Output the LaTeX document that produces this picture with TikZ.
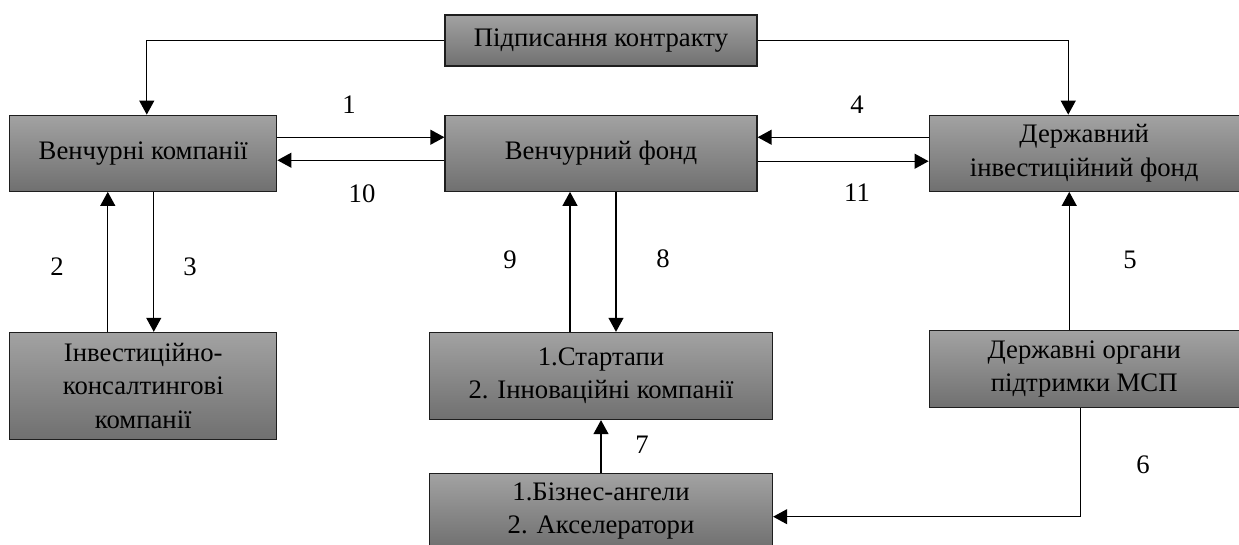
\documentclass[tikz,border=0pt]{standalone}
\usepackage{fontspec}
\setmainfont{Liberation Serif}
\usetikzlibrary{positioning,arrows.meta}
\definecolor{boxtop}{RGB}{162,162,162}
\definecolor{boxbot}{RGB}{112,112,112}
\definecolor{boxline}{RGB}{30,30,30}

\begin{document}
\begin{tikzpicture}[
    every node/.style={font=\fontsize{15.2}{19}\selectfont},
    % Stijl voor de blokken
    block/.style={rectangle, draw=boxline, line width=0.7pt, top color=boxtop, bottom color=boxbot,
                  align=center, inner sep=2pt},
    % Stijl voor de nummers bij de pijlen
    num/.style={inner sep=1pt},
    arr/.style={-{Triangle[length=8pt,width=8.5pt]}, thick}
]
\useasboundingbox (0,0) rectangle (24.78,-10.88);

% --- Bovenste rij ---
\node[block, minimum width=6.24cm, minimum height=1.02cm] (kontrakt) at (12.02,-0.81) {Підписання контракту};
\node[block, minimum width=6.24cm, minimum height=1.52cm, below=0.96cm of kontrakt] (venfond) {Венчурний фонд};
\node[block, minimum width=5.34cm, minimum height=1.52cm, left=3.34cm of venfond] (venkomp) {Венчурні компанії};
\node[block, minimum width=6.2cm, minimum height=1.52cm, right=3.42cm of venfond] (derzhfond) {Державний\\інвестиційний фонд};

% --- Onderste rij ---
\node[block, minimum width=5.34cm, minimum height=2.14cm, below=2.8cm of venkomp] (invkons) {Інвестиційно-\\консалтингові\\компанії};
\node[block, minimum width=6.86cm, minimum height=1.74cm, below=2.8cm of venfond] (startapy) {1.Стартапи\\2. Інноваційні компанії};
\node[block, minimum width=6.2cm, minimum height=1.54cm, below=2.76cm of derzhfond] (derzhorg) {Державні органи\\підтримки МСП};
\node[block, minimum width=6.86cm, minimum height=1.48cm, below=1.06cm of startapy] (biznes) {1.Бізнес-ангели\\2. Акселератори};

% --- Pijlen ---
\draw[arr] (kontrakt.west) -| ([xshift=0.07cm]venkomp.north);
\draw[arr] (kontrakt.east) -| ([xshift=-0.32cm]derzhfond.north);
\draw[arr] ([yshift=0.32cm]venkomp.east) -- ([yshift=0.32cm]venfond.west);
\draw[arr] ([yshift=-0.14cm]venfond.west) -- ([yshift=-0.14cm]venkomp.east);
\draw[arr] ([yshift=0.32cm]derzhfond.west) -- ([yshift=0.32cm]venfond.east);
\draw[arr] ([yshift=-0.16cm]venfond.east) -- ([yshift=-0.16cm]derzhfond.west);
\draw[arr] ([xshift=-0.71cm]invkons.north) -- ([xshift=-0.71cm]venkomp.south);
\draw[arr] ([xshift=0.21cm]venkomp.south) -- ([xshift=0.21cm]invkons.north);
\draw[arr] ([xshift=-0.62cm]startapy.north) -- ([xshift=-0.62cm]venfond.south);
\draw[arr] ([xshift=0.30cm]venfond.south) -- ([xshift=0.30cm]startapy.north);
\draw[arr] ([xshift=-0.30cm]derzhorg.north) -- ([xshift=-0.30cm]derzhfond.south);
\draw[arr] (biznes.north) -- (startapy.south);
\draw[arr] ([xshift=-0.08cm]derzhorg.south) |- ([yshift=-0.12cm]biznes.east);

% --- Nummers ---
\node[num] (n1) at (6.98,-2.10) {1};
\node[num] (n10) at (7.24,-3.88) {10};
\node[num] (n4) at (17.14,-2.10) {4};
\node[num] (n11) at (17.14,-3.86) {11};
\node[num] (n2) at (1.14,-5.34) {2};
\node[num] (n3) at (3.80,-5.34) {3};
\node[num] (n9) at (10.20,-5.20) {9};
\node[num] (n8) at (13.26,-5.18) {8};
\node[num] (n5) at (22.60,-5.20) {5};
\node[num] (n7) at (12.84,-8.90) {7};
\node[num] (n6) at (22.86,-9.30) {6};

\end{tikzpicture}
\end{document}
